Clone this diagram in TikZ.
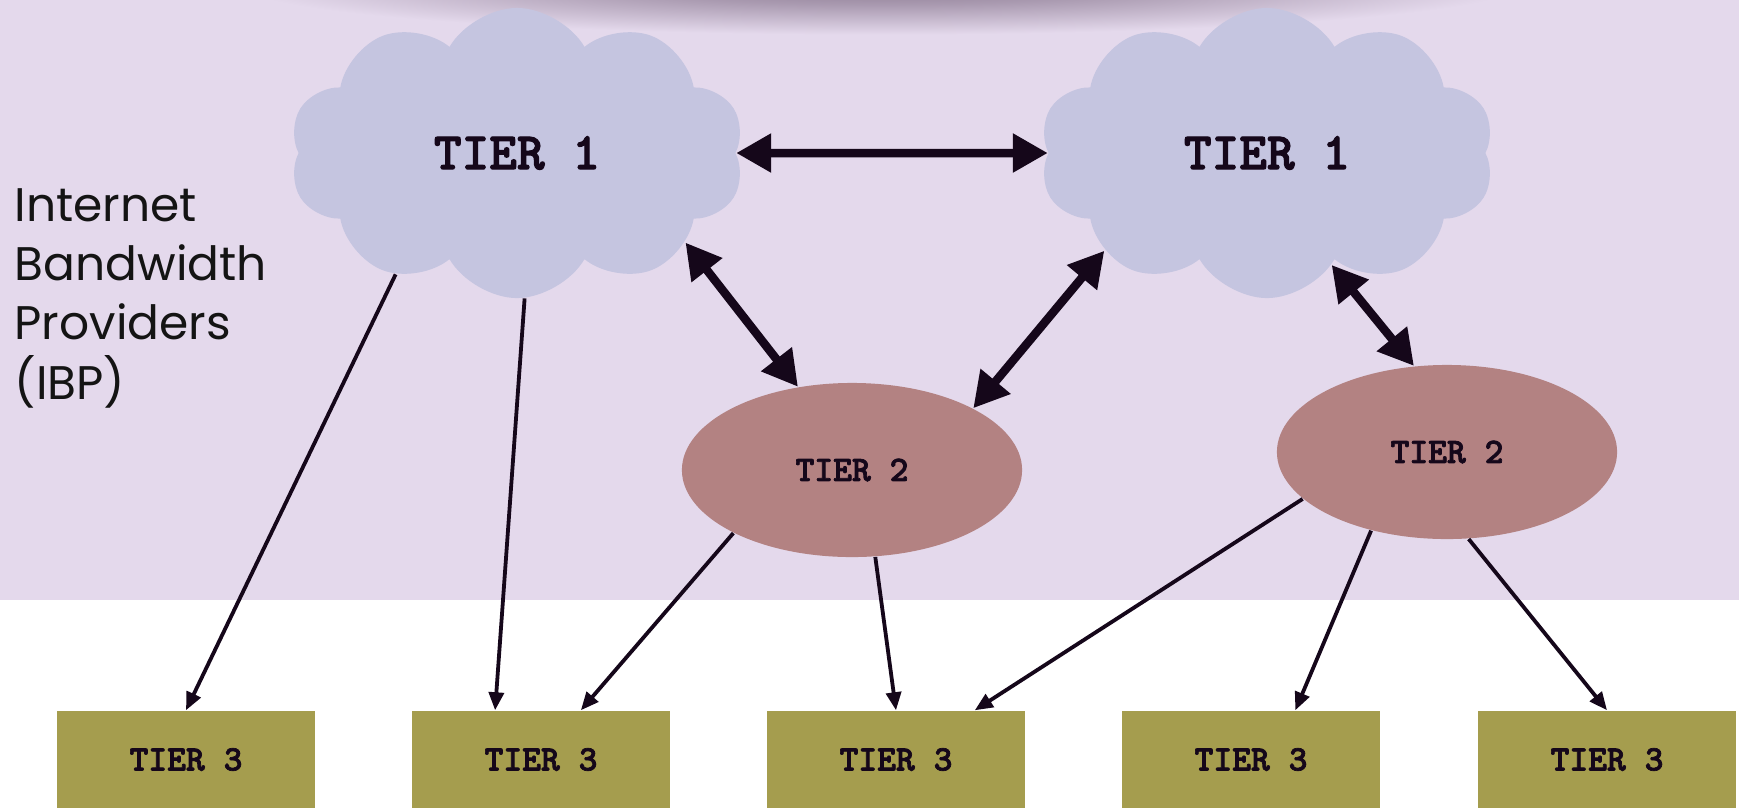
\documentclass[tikz,border=0pt]{standalone}
\usepackage{fontspec}
\usepackage{tikz}
\usetikzlibrary{arrows.meta,shapes.symbols,shapes.geometric}
\newfontfamily\ibpfont{Poppins}
\newfontfamily\tierfont{lmmonolt10-bold.otf}[FakeBold=2]
\definecolor{bandbg}{HTML}{E4D9EC}
\definecolor{tonecloud}{HTML}{C5C5E0}
\definecolor{tonetwo}{HTML}{B38282}
\definecolor{tonethree}{HTML}{A59D4E}
\definecolor{ink}{HTML}{15071A}
\definecolor{shade}{HTML}{8A7890}
\pgfdeclareradialshading{topshade}{\pgfpoint{0bp}{0bp}}{color(0bp)=(shade); color(0.8bp)=(shade!65!bandbg); color(2bp)=(bandbg); color(25bp)=(bandbg); color(50bp)=(bandbg)}

\begin{document}
\begin{tikzpicture}[x=0.01cm, y=-0.01cm,
	tierone/.style={cloud, cloud puffs=10, cloud puff arc=120, aspect=1.55, fill=tonecloud, minimum width=4.55cm, minimum height=2.9cm, inner sep=0pt, text=ink, font=\tierfont\fontsize{15}{17}\selectfont},
	tiertwo/.style={ellipse, fill=tonetwo, minimum width=3.4cm, minimum height=1.74cm, inner sep=0pt, text=ink, font=\tierfont\fontsize{10.2}{12}\selectfont},
	tierthree/.style={rectangle, fill=tonethree, minimum width=2.57cm, minimum height=0.97cm, inner sep=0pt, text=ink, font=\tierfont\fontsize{10.2}{12}\selectfont},
	peer/.style={{Triangle[length=0.35cm,width=0.37cm]}-{Triangle[length=0.35cm,width=0.37cm]}, line width=0.085cm, draw=ink},
	feed/.style={-{Triangle[length=0.18cm,width=0.15cm]}, line width=0.038cm, draw=ink}]
	\clip (0,0) rectangle (1739,808);
	\fill[white] (0,0) rectangle (1739,808);
	\fill[bandbg] (0,0) rectangle (1739,599);
	\begin{scope}
		\clip (0,0) rectangle (1739,599);
		\fill[shading=topshade] (880,-15) ellipse (8000 and 620);
	\end{scope}
	\node[anchor=base west, align=left, inner sep=0pt, font=\ibpfont\fontsize{13.4}{16.8}\selectfont, text=black!92] (ibp) at (14,399) {Internet\\Bandwidth\\Providers\\(IBP)};
	\node[tierone] (t1a) at (517,153) {TIER 1};
	\node[tierone] (t1b) at (1267,153) {TIER 1};
	\node[tiertwo] (t2a) at (852,470) {TIER 2};
	\node[tiertwo] (t2b) at (1447,452) {TIER 2};
	\foreach \n/\x in {t3a/186,t3b/541,t3c/896,t3d/1251,t3e/1607}
		\node[tierthree] (\n) at (\x,759.5) {TIER 3};
	\draw[peer] (t1a.east) -- (t1b.west);
	\draw[peer] (t1a.-28) -- (t2a.123);
	\draw[peer] (t1b.-149) -- (t2a.27);
	\draw[peer] (t1b.-60) -- (t2b.111);
	\draw[feed] (t1a.-135) -- (t3a.north);
	\draw[feed] (t1a.-87) -- (t3b.133);
	\draw[feed] (t2a.208) -- (t3b.51);
	\draw[feed] (t2a.-75) -- (t3c.north);
	\draw[feed] (t2b.198) -- (t3c.32);
	\draw[feed] (t2b.226) -- (t3d.48);
	\draw[feed] (t2b.-76) -- (t3e.north);
\end{tikzpicture}
\end{document}
